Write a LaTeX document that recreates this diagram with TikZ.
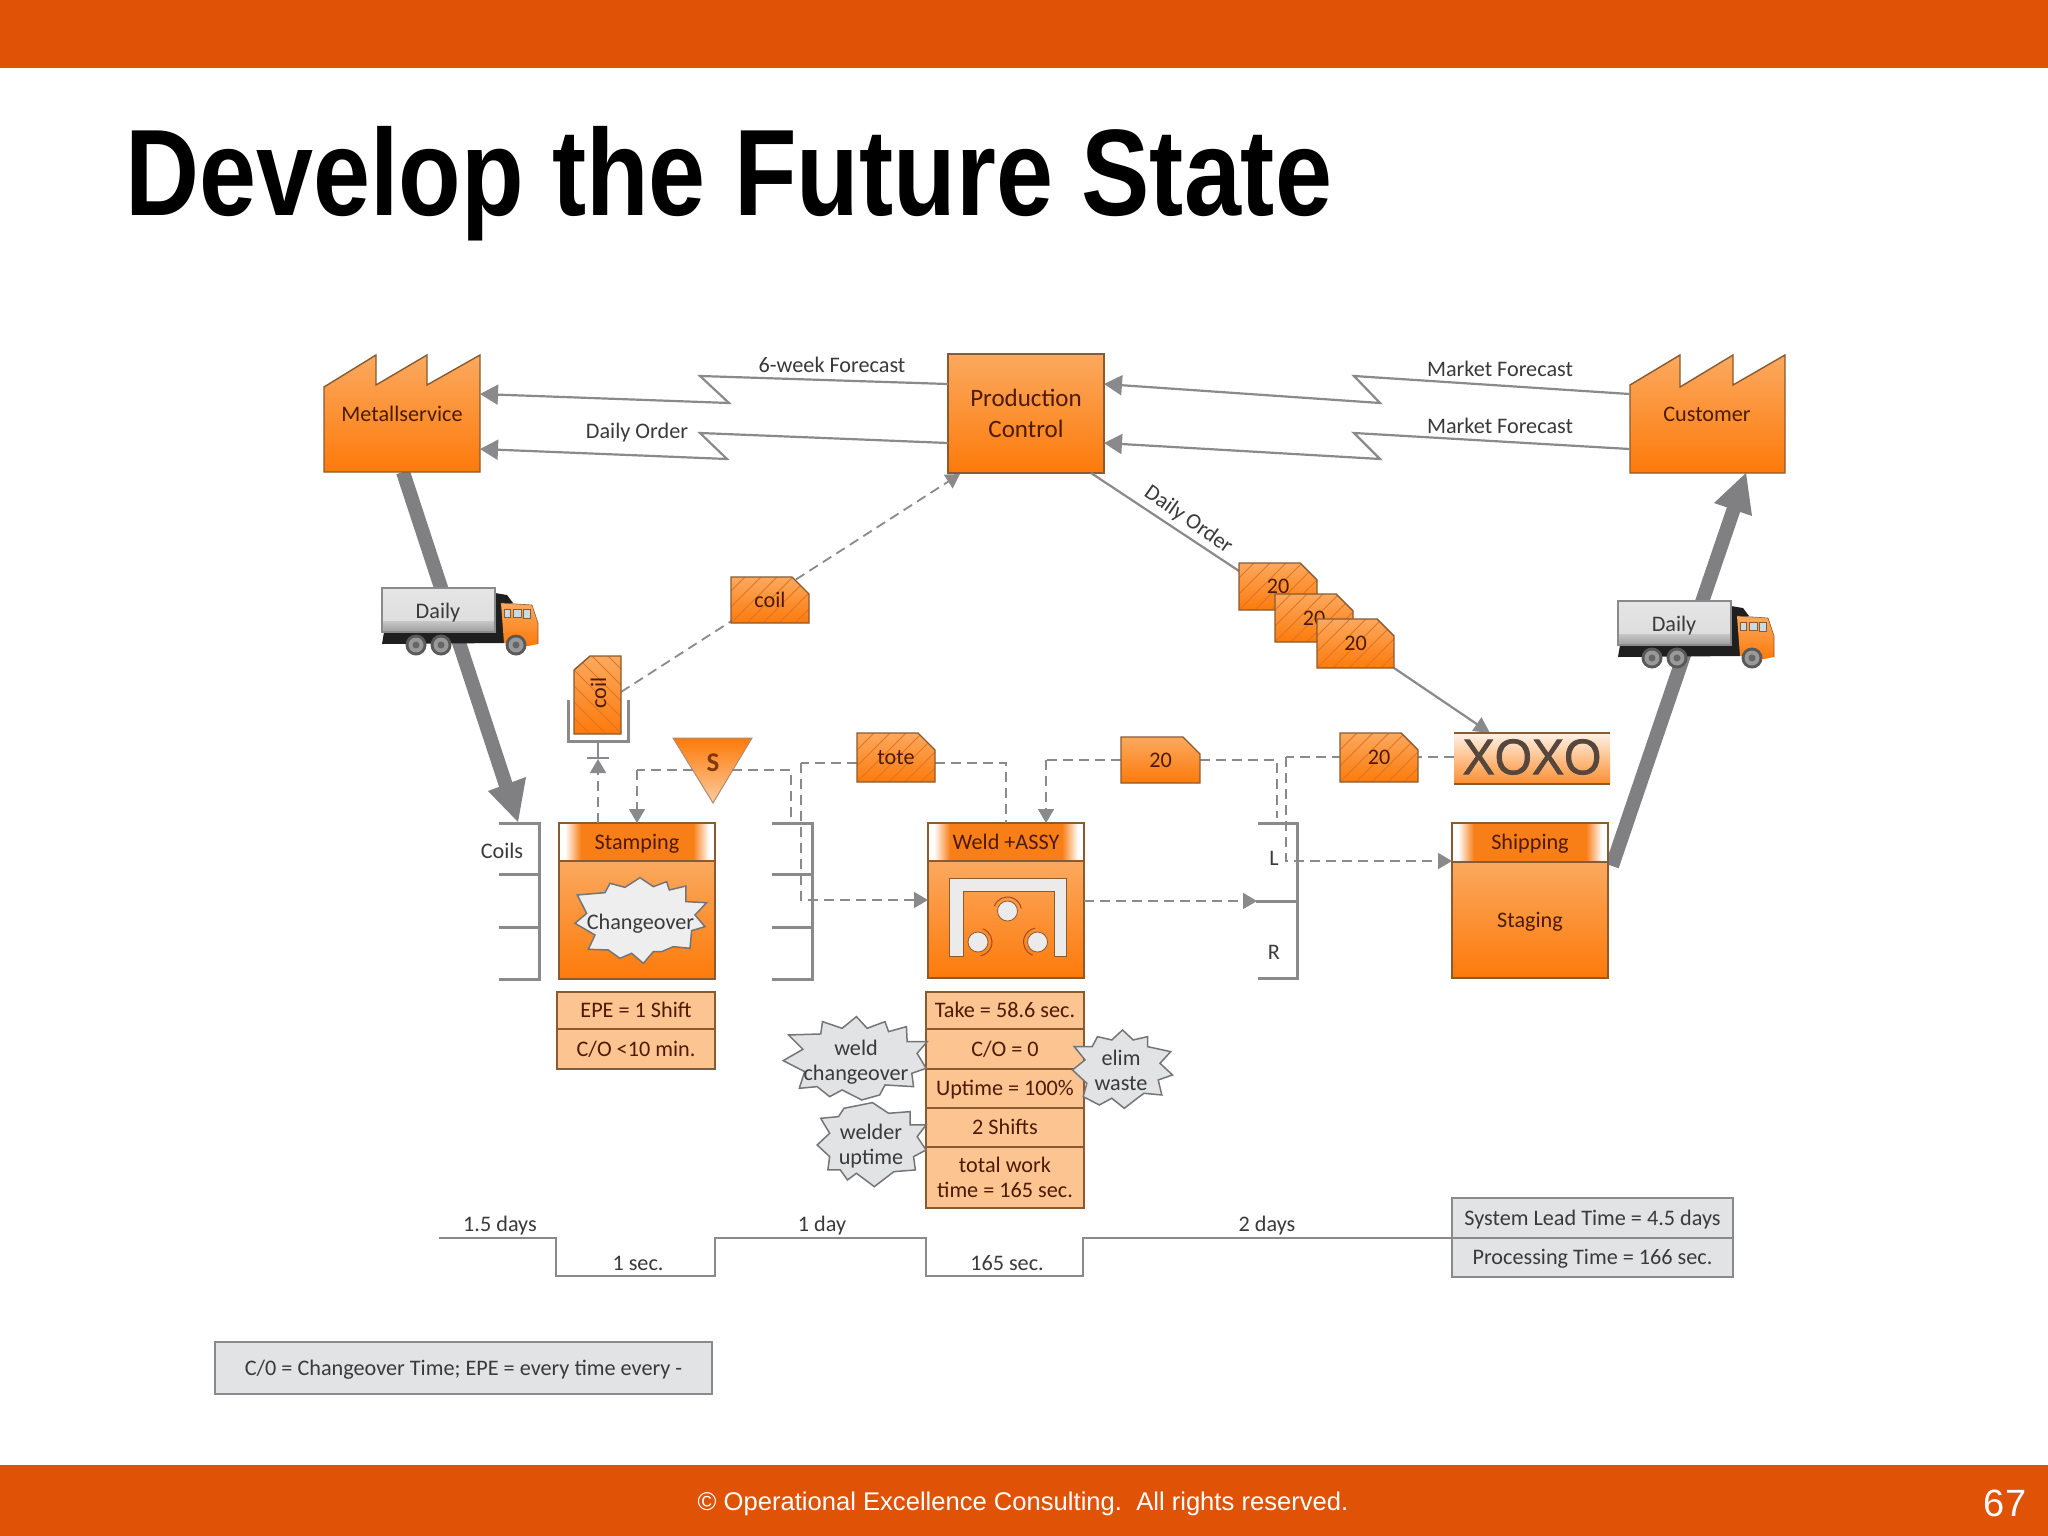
\documentclass[tikz,border=0pt]{standalone}
\usepackage{fontspec}
\usepackage{graphicx}
\setmainfont{Carlito}
\newfontfamily\arialf{Liberation Sans}
\newfontfamily\xoxof[FakeBold=1.6]{Liberation Sans}
\usetikzlibrary{arrows.meta,calc}
\definecolor{bandorange}{HTML}{E05206}
\definecolor{ortop}{HTML}{FBA95F}
\definecolor{orbot}{HTML}{FD7A0A}
\definecolor{ormid}{HTML}{F87E18}
\definecolor{hatchc}{HTML}{DE7424}
\definecolor{edgec}{HTML}{8A5A30}
\definecolor{datafill}{HTML}{FBC491}
\definecolor{linegrey}{HTML}{8A8A8C}
\definecolor{thickgrey}{HTML}{808082}
\definecolor{txtgrey}{HTML}{3A3A3A}
\definecolor{txtbrown}{HTML}{4E1A04}
\definecolor{burstfill}{HTML}{E2E3E5}
\definecolor{xoxoc}{HTML}{55473D}
\tikzset{
  one/.style={text height=14pt,text depth=0pt},
  lbl/.style={font=\fontsize{22.2}{25}\selectfont,text=txtgrey,inner sep=0pt,outer sep=0pt,align=center,one},
  brn/.style={font=\fontsize{22.2}{25}\selectfont,text=txtbrown,inner sep=0pt,outer sep=0pt,align=center,one},
  shapeline/.style={draw=edgec,line width=1.4pt},
  datacell/.style={draw=edgec,line width=1.4pt,fill=datafill,anchor=north west,inner sep=0pt,outer sep=0pt,
     font=\fontsize{22.2}{25}\selectfont,text=txtbrown,align=center},
  greybox/.style={draw=linegrey,line width=1.6pt,fill=burstfill,anchor=north west,inner sep=0pt,outer sep=0pt,
     font=\fontsize{22.2}{25}\selectfont,text=txtgrey,align=center,one},
  zig/.style={draw=linegrey,line width=2.2pt,line join=miter,-{Triangle[length=18pt,width=20pt,fill=linegrey]}},
  thinline/.style={draw=linegrey,line width=2.2pt},
  dsh/.style={draw=linegrey,line width=1.8pt,dash pattern=on 10pt off 6pt},
  dsharrow/.style={dsh,-{Triangle[length=14pt,width=16pt,fill=linegrey]}},
  bracket/.style={draw=linegrey,line width=3pt},
  burst/.style={draw=linegrey!85!black,line width=1.5pt,fill=burstfill,line join=miter},
}
% name, x1, y1, x2, y2, text, hatch (0 none, 1 up-right)
\newcommand{\kanban}[7]{%
  \begin{scope}
    \clip (#2,#3) -- ({#4-17},#3) -- (#4,{#3+17}) -- (#4,#5) -- (#2,#5) -- cycle;
    \shade[top color=ortop,bottom color=orbot] (#2,#3) rectangle (#4,#5);
    \ifnum#7=1
      \foreach \o in {-96,-80,...,96} \draw[hatchc,line width=1pt] ({#2+\o},#5) -- ({#2+\o+#5-#3},#3);
    \fi
  \end{scope}
  \draw[shapeline] (#2,#3) -- ({#4-17},#3) -- (#4,{#3+17}) -- (#4,#5) -- (#2,#5) -- cycle;
  \node[brn,minimum width={(#4-#2)*1pt},minimum height={(#5-#3)*1pt}] (#1) at ({(#2+#4)/2},{(#3+#5)/2}) {#6};
}
% name, x1, x2, ytop, ymid, ybot, header
\newcommand{\prochead}[7]{%
  \shade[top color=ortop,bottom color=orbot] (#2,#5) rectangle (#3,#6);
  \fill[white] (#2,#4) rectangle (#3,#5);
  \shade[left color=white,right color=ormid] ({#2+6},#4) rectangle ({#2+22},#5);
  \fill[ormid] ({#2+22},#4) rectangle ({#3-22},#5);
  \shade[left color=ormid,right color=white] ({#3-22},#4) rectangle ({#3-6},#5);
  \draw[shapeline] (#2,#4) rectangle (#3,#6);
  \draw[shapeline] (#2,#5) -- (#3,#5);
  \node[brn,minimum width={(#3-#2)*1pt},minimum height={(#5-#4)*1pt}] (#1) at ({(#2+#3)/2},{(#4+#5)/2}) {#7};
}
\newcommand{\truck}[3]{%
  \begin{scope}[shift={(#2,#3)}]
    \fill[black!88] (113,5) -- (125,7) -- (131,15) -- (122,18) -- (122,55) -- (0,56) -- (2,44) -- (113,44) -- cycle;
    \shade[top color=ortop,bottom color=orbot] (119,15) -- (150,17) -- (156,35) -- (156,56) -- (146,58) -- (122,55) -- cycle;
    \draw[edgec,line width=.6pt] (119,15) -- (150,17) -- (156,35) -- (156,56);
    \fill[black!45!cyan!25!white,draw=edgec,line width=.5pt] (122,21) rectangle (128,29) (131,21) rectangle (139,29) (141,21) rectangle (148,30);
    \foreach \wx in {34,59,134} {
      \fill[black!65] (\wx,57) circle (10.5);
      \fill[black!40] (\wx,57) circle (7.5);
      \fill[black!60] (\wx,57) circle (3.5);
    }
    \shade[top color=black!10,bottom color=black!13] (0,0) rectangle (113,33);
    \shade[top color=black!22,bottom color=black!38] (0,33) rectangle (113,44);
    \draw[linegrey,line width=1.2pt] (0,0) rectangle (113,44);
    \node[lbl] (#1) at (56,23) {Daily};
  \end{scope}
}
\begin{document}
\begin{tikzpicture}[x=1pt,y=-1pt]
\useasboundingbox (0,0) rectangle (2048,1536);
\fill[white] (0,0) rectangle (2048,1536);
% bands and title
\fill[bandorange] (0,0) rectangle (2048,68);
\fill[bandorange] (0,1465) rectangle (2048,1536);
\node[anchor=base west,inner sep=0pt] (title) at (125,215) {\scalebox{.833}[1]{\fontsize{123}{130}\arialf\bfseries\selectfont Develop the Future State}};
\node[inner sep=0pt,text=white,font=\fontsize{25.6}{30}\arialf\selectfont] (foot) at (1023,1504) {© Operational Excellence Consulting.\ \ All rights reserved.};
\node[inner sep=0pt,text=white,font=\fontsize{38}{40}\arialf\selectfont] (pageno) at (2005,1503) {67};

% named ports
\coordinate (metalS) at (403,472);
\coordinate (coilsT) at (518,822);
\coordinate (custS) at (1746,473);
\coordinate (shipE) at (1612,866);

% thick material arrows
\draw[draw=thickgrey,line width=14pt] (metalS) -- ($(metalS)!.92!(coilsT)$);
\fill[thickgrey] (coilsT) -- (526,777) -- (488,791) -- cycle;
\draw[draw=thickgrey,line width=14pt] (shipE) -- ($(shipE)!.92!(custS)$);
\fill[thickgrey] (custS) -- (1714,503) -- (1752,516) -- cycle;

% trucks
\truck{truckA}{382}{588}
\truck{truckB}{1618}{601}

% factories
\shade[top color=ortop,bottom color=orbot] (324,387) -- (376,355) -- (376,385) -- (427,355) -- (427,385) -- (480,355) -- (480,472) -- (324,472) -- cycle;
\draw[shapeline] (324,387) -- (376,355) -- (376,385) -- (427,355) -- (427,385) -- (480,355) -- (480,472) -- (324,472) -- cycle;
\node[brn,minimum width=156pt,minimum height=70pt] (metal) at (402,414) {Metallservice};
\shade[top color=ortop,bottom color=orbot] (1630,385) -- (1680,355) -- (1680,387) -- (1733,355) -- (1733,385) -- (1785,355) -- (1785,473) -- (1630,473) -- cycle;
\draw[shapeline] (1630,385) -- (1680,355) -- (1680,387) -- (1733,355) -- (1733,385) -- (1785,355) -- (1785,473) -- (1630,473) -- cycle;
\node[brn,minimum width=155pt,minimum height=70pt] (cust) at (1707,414) {Customer};

% production control
\shade[top color=ortop,bottom color=orbot] (948,354) rectangle (1104,473);
\draw[shapeline] (948,354) rectangle (1104,473);
\node[inner sep=0pt,outer sep=0pt,align=center,text=txtbrown,font=\fontsize{25}{31}\selectfont,minimum width=156pt,minimum height=119pt] (prod) at (1026,413) {Production\\Control};

% electronic information flows
\draw[zig] (prod.west |- 0,384) -- (700,376) -- (729,403) -- (metal.east |- 0,394);
\draw[zig] (prod.west |- 0,443) -- (700,433) -- (727,459) -- (metal.east |- 0,449);
\draw[zig] (cust.west |- 0,394) -- (1354,376) -- (1380,403) -- (prod.east |- 0,384);
\draw[zig] (cust.west |- 0,449) -- (1354,433) -- (1380,459) -- (prod.east |- 0,443);
\node[lbl] (l6w) at (832,365) {6-week Forecast};
\node[lbl] (ldo) at (637,431) {Daily Order};
\node[lbl] (lmf1) at (1500,369) {Market Forecast};
\node[lbl] (lmf2) at (1500,426) {Market Forecast};
\node[lbl,rotate=-35] (ldo2) at (1189,519) {Daily Order};

% brackets
\draw[bracket] (499,823) -- (539,823) -- (539,979) -- (499,979) (499,874) -- (539,874) (499,927) -- (539,927);
\draw[bracket] (772,823) -- (812,823) -- (812,979) -- (772,979) (772,874) -- (812,874) (772,927) -- (812,927);
\draw[bracket] (1258,823) -- (1297,823) -- (1297,978) -- (1258,978) (1256,901) -- (1297,901);
\node[lbl] (lcoils) at (502,851) {Coils};
\node[lbl] (lL) at (1274,858) {L};
\node[lbl] (lR) at (1274,952) {R};

% coil signal board
\draw[bracket] (568,700) -- (568,741) -- (628,741) -- (628,700);
\draw[linegrey,line width=2pt] (587,758) -- (609,758);
\draw[linegrey,line width=2pt] (598,741) -- (598,758);

% process boxes
\prochead{stamp}{559}{715}{823}{861}{979}{Stamping}
\prochead{weld}{928}{1084}{823}{861}{978}{Weld +ASSY}
\prochead{ship}{1452}{1608}{823}{862}{978}{Shipping}
\node[brn] (staging) at (1530,920) {Staging};

% weld cell icon
\fill[black!8,draw=edgec,line width=1pt] (949,878) -- (1066,878) -- (1066,956) -- (1054,956) -- (1054,891) -- (963,891) -- (963,956) -- (949,956) -- cycle;
\foreach \cx/\cy/\sa in {1007.5/911/200,978/942/290,1037.5/942/110} {
  \draw[edgec!80!red,line width=1pt] (\cx,\cy) ++(\sa:14) arc[start angle=\sa,end angle=\sa+150,radius=14];
  \fill[black!8,draw=edgec,line width=.8pt] (\cx,\cy) circle (10);
}

% data boxes
\node[datacell,one,minimum width=158pt,minimum height=37pt] (epe) at (557,992) {EPE = 1 Shift};
\node[datacell,one,minimum width=158pt,minimum height=40pt] (co1) at (557,1029) {C/O <10 min.};
\node[datacell,one,minimum width=158pt,minimum height=37pt] (d1) at (926,992) {Take = 58.6 sec.};
\node[datacell,one,minimum width=158pt,minimum height=40pt] (d2) at (926,1029) {C/O = 0};
\node[datacell,one,minimum width=158pt,minimum height=39pt] (d3) at (926,1069) {Uptime = 100\%};
\node[datacell,one,minimum width=158pt,minimum height=39pt] (d4) at (926,1108) {2 Shifts};
\node[datacell,minimum width=158pt,minimum height=61pt] (d5) at (926,1147) {total work\\time = 165 sec.};

% bursts
\begin{scope}[shift={(440,780)},x=.3333pt,y=-.3333pt]
\draw[burst,fill=burstfill!60!white] (412,345) -- (495,338) -- (510,310) -- (555,322) -- (600,293) -- (640,320) -- (680,305) -- (688,330) -- (738,318) -- (738,365) -- (800,368) -- (765,405) -- (795,440) -- (755,452) -- (750,505) -- (700,500) -- (665,515) -- (640,515) -- (610,550) -- (575,520) -- (540,535) -- (505,510) -- (445,508) -- (465,465) -- (405,430) -- (440,400) -- cycle;
\end{scope}
\begin{scope}[shift={(760,700)},x=.35714pt,y=-.3333pt]
\draw[burst] (65,1082) -- (120,1048) -- (80,1005) -- (170,1002) -- (175,965) -- (230,985) -- (270,950) -- (300,985) -- (350,965) -- (360,995) -- (410,980) -- (412,1025) -- (468,1025) -- (440,1060) -- (465,1105) -- (425,1120) -- (430,1160) -- (350,1155) -- (335,1185) -- (285,1200) -- (230,1170) -- (195,1190) -- (160,1160) -- (110,1165) -- (125,1115) -- cycle;
\draw[burst] (160,1335) -- (195,1300) -- (170,1255) -- (220,1250) -- (235,1225) -- (315,1208) -- (360,1240) -- (420,1235) -- (420,1275) -- (465,1275) -- (440,1310) -- (465,1350) -- (430,1370) -- (435,1410) -- (375,1415) -- (320,1460) -- (270,1420) -- (245,1440) -- (225,1410) -- (190,1410) -- (195,1370) -- cycle;
\draw[burst] (880,1040) -- (930,1040) -- (945,1010) -- (985,1020) -- (1015,990) -- (1045,1020) -- (1085,1010) -- (1085,1040) -- (1150,1055) -- (1120,1090) -- (1155,1125) -- (1115,1140) -- (1125,1185) -- (1075,1180) -- (1050,1200) -- (1020,1225) -- (985,1195) -- (950,1215) -- (905,1190) -- (915,1150) -- (875,1110) -- (910,1080) -- cycle;
\end{scope}
\node[lbl] (bChange) at (640.5,922) {Changeover};
\node[lbl] (bWeld) at (856,1048) {weld};
\node[lbl] (bWeld2) at (856,1073) {changeover};
\node[lbl] (bWelder) at (871,1132) {welder};
\node[lbl] (bWelder2) at (871,1157) {uptime};
\node[lbl] (bElim) at (1121,1058) {elim};
\node[lbl] (bElim2) at (1121,1083) {waste};

% supermarket triangle
\shade[top color=orbot,bottom color=ortop!60!white] (673,738) -- (752,738) -- (713,803) -- cycle;
\draw[edgec!70,line width=1pt] (673,738) -- (752,738) -- (713,803) -- cycle;
\node[inner sep=0pt,font=\fontsize{27}{28}\bfseries\selectfont,text=txtbrown!70!orange] (sup) at (713,763) {S};

% dashed connectors first, kanbans on top
\coordinate (vkE) at (621,692);
\coordinate (prodSW) at (960,474);
\coordinate (xoxoW) at (1454,757);
\coordinate (xoxoT) at (1490,733);
\draw[dsharrow] (vkE) -- (prodSW);
\draw[dsh] (sup.center) ++(-20,7) -- (637,770);
\draw[dsharrow] (637,770) -- (stamp.north -| 637,0);
\draw[dsharrow] (stamp.north -| 598,0) -- (598,759);
\draw[dsh] (732,770) -- (791,770) -- (791,818);
\draw[dsh] (857,763) -- (801,763);
\draw[dsharrow] (801,763) -- (801,900) -- (weld.west |- 0,900);
\draw[dsh] (935,763) -- (1006,763) -- (1006,823);
\draw[dsh] (1121,760) -- (1046,760);
\draw[dsharrow] (1046,760) -- (weld.north -| 1046,0);
\draw[dsh] (1200,760) -- (1277,760) -- (1277,818);
\draw[dsh] (xoxoW) -- (1286,757);
\draw[dsharrow] (1286,757) -- (1286,861) -- (ship.west |- 0,861);
\draw[dsharrow] (weld.east |- 0,901) -- (1257,901);
\draw[-{Triangle[length=16pt,width=16pt,fill=linegrey]},thinline] (1394,668) -- (xoxoT);
\draw[thinline] (1091,473) -- (1239,571);

% kanbans
\kanban{kCoil}{731}{577}{809}{623}{coil}{1}
\begin{scope}
  \clip (574,670) -- (590,656) -- (621,656) -- (621,734) -- (574,734) -- cycle;
  \shade[top color=ortop,bottom color=orbot] (574,656) rectangle (621,734);
  \foreach \o in {-94,-78,...,60} \draw[hatchc,line width=1pt] ({574+\o},656) -- ({574+\o+78},734);
\end{scope}
\draw[shapeline] (574,670) -- (590,656) -- (621,656) -- (621,734) -- (574,734) -- cycle;
\node[brn,rotate=90] (kCoilV) at (599,693) {coil};
\kanban{kTote}{857}{733}{935}{782}{tote}{1}
\kanban{kTw}{1121}{737}{1200}{783}{20}{0}
\kanban{kOut}{1340}{733}{1418}{782}{20}{1}
\kanban{kA}{1239}{563}{1317}{610}{20}{1}
\kanban{kB}{1275}{594}{1353}{642}{20}{1}
\kanban{kC}{1317}{619}{1394}{668}{20}{1}

% XOXO
\shade[top color=white!85!ortop,bottom color=orbot!85!white] (1454,733) rectangle (1610,784);
\draw[edgec,line width=1.2pt] (1454,733) -- (1610,733) (1454,784) -- (1610,784);
\node[inner sep=0pt,text=xoxoc] (xoxo) at (1532,757) {\scalebox{.96}[1]{\fontsize{50}{52}\xoxof\selectfont XOXO}};

% timeline
\draw[linegrey,line width=1.8pt] (439,1238) -- (556,1238) -- (556,1276) -- (715,1276) -- (715,1238) -- (926,1238) -- (926,1276) -- (1083,1276) -- (1083,1238) -- (1452,1238);
\node[greybox,minimum width=281pt,minimum height=40pt] (slt) at (1452,1198) {System Lead Time = 4.5 days};
\node[greybox,minimum width=281pt,minimum height=39pt] (pt) at (1452,1238) {Processing Time = 166 sec.};
\node[lbl] (t1) at (500,1224) {1.5 days};
\node[lbl] (t2) at (638,1263) {1 sec.};
\node[lbl] (t3) at (822,1224) {1 day};
\node[lbl] (t4) at (1007,1263) {165 sec.};
\node[lbl] (t5) at (1267,1224) {2 days};

% legend
\node[greybox,minimum width=497pt,minimum height=52pt] (legend) at (215,1342) {C/0 = Changeover Time; EPE = every time every -};
\end{tikzpicture}
\end{document}
